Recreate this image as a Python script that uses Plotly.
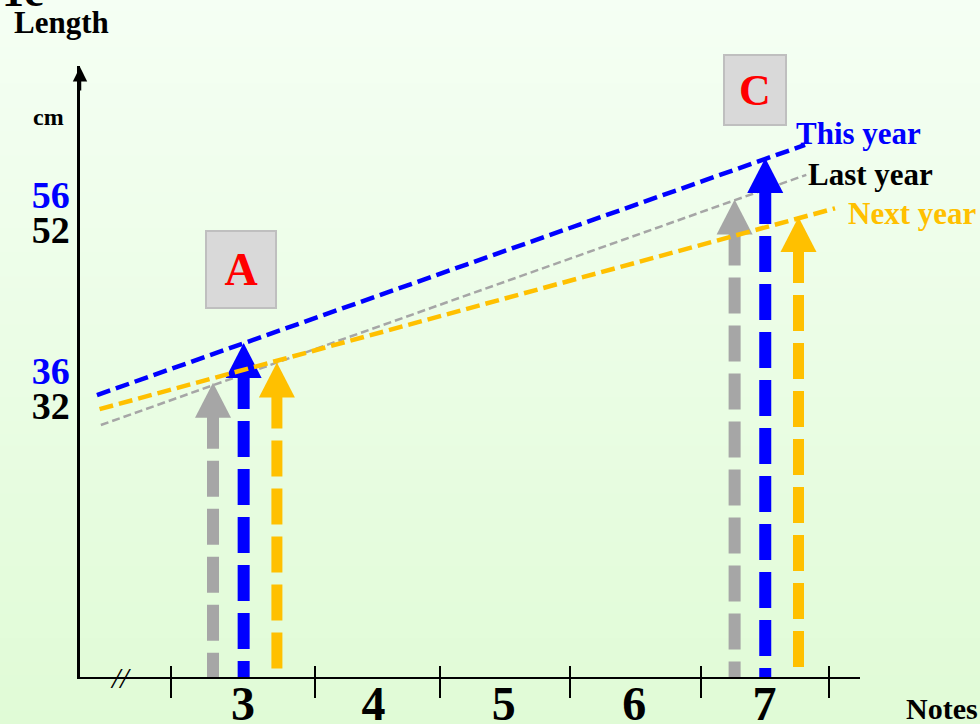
import plotly.graph_objects as go

# ---------------- data ----------------
categories = [3, 4, 5, 6, 7]
category_labels = ["3", "4", "5", "6", "7"]
tick_marks = [2.45, 3.55, 4.51, 5.51, 6.51, 7.49]

y_tick_values = [56, 52, 36, 32]
y_tick_labels = ["56", "52", "36", "32"]
y_tick_colors = ["#0000ff", "#000000", "#0000ff", "#000000"]

series_names = ["This year", "Last year", "Next year"]

this_year_line_x = [1.88, 7.31]
this_year_line_y = [33.2, 61.6]
last_year_line_x = [1.91, 7.32]
last_year_line_y = [29.8, 58.2]
next_year_line_x = [1.90, 7.54]
next_year_line_y = [31.6, 54.4]

arrow_categories = [3, 7]
last_year_arrows = [34.6, 55.4]
this_year_arrows = [39.1, 60.1]
next_year_arrows = [36.9, 53.4]

box_labels = ["A", "C"]

# ---------------- style ----------------
BLUE = "#0000ff"
GREY = "#a6a6a6"
ORANGE = "#ffc000"
SERIF = "Liberation Serif"

W, H = 980, 724
M_L, M_R, M_T, M_B = 80, 120, 66, 47
PLOT_W = W - M_L - M_R
PLOT_H = H - M_T - M_B
X_RANGE = [1.75, 1.75 + PLOT_W / 130.4]
Y_RANGE = [1.2, 1.2 + PLOT_H / 8.81]
DX = (X_RANGE[1] - X_RANGE[0]) / PLOT_W  # data units per pixel
DY = (Y_RANGE[1] - Y_RANGE[0]) / PLOT_H

OFFSETS = {"Last year": -0.23, "This year": 0.005, "Next year": 0.26}

fig = go.Figure()


def add_line(xs, ys, color, width, dash):
    fig.add_trace(go.Scatter(x=xs, y=ys, mode="lines",
                             line=dict(color=color, width=width, dash=dash),
                             hoverinfo="skip", showlegend=False))


def add_arrow(x, tip, color, shaft_w=12):
    hw = 18 * DX
    hl = 35 * DY
    fig.add_trace(go.Scatter(x=[x, x], y=[tip - 30 * DY, Y_RANGE[0]], mode="lines",
                             line=dict(color=color, width=shaft_w, dash="36px,12px"),
                             hoverinfo="skip", showlegend=False))
    fig.add_trace(go.Scatter(x=[x - hw, x + hw, x, x - hw],
                             y=[tip - hl, tip - hl, tip, tip - hl],
                             mode="lines", fill="toself", fillcolor=color,
                             line=dict(color=color, width=0),
                             hoverinfo="skip", showlegend=False))


add_line(last_year_line_x, last_year_line_y, GREY, 2.5, "8px,4px")
add_line(this_year_line_x, this_year_line_y, BLUE, 4.5, "14px,6px")

for i, c in enumerate(arrow_categories):
    add_arrow(c + OFFSETS["Last year"], last_year_arrows[i], GREY)
    add_arrow(c + OFFSETS["This year"], this_year_arrows[i], BLUE)
    add_arrow(c + OFFSETS["Next year"], next_year_arrows[i], ORANGE, 11)

add_line(next_year_line_x, next_year_line_y, ORANGE, 4.5, "14px,6px")

# invisible anchors so the overlaying tick axes get drawn
for ax in ["x2", "x3"]:
    fig.add_trace(go.Scatter(x=[X_RANGE[0]], y=[Y_RANGE[0]], xaxis=ax, mode="markers",
                             marker=dict(opacity=0), hoverinfo="skip", showlegend=False))

# ---------------- background gradient ----------------
top = (245, 255, 244)
bot = (224, 251, 214)
N = 60
shapes = []
y_top_p = (H - M_B) / PLOT_H  # paper y of top pixel
y_bot_p = -M_B / PLOT_H
for k in range(N):
    t = (k + 0.5) / N
    col = tuple(round(top[j] + (bot[j] - top[j]) * t) for j in range(3))
    y1 = y_top_p + (y_bot_p - y_top_p) * k / N
    y0 = y_top_p + (y_bot_p - y_top_p) * (k + 1) / N
    shapes.append(dict(type="rect", xref="paper", yref="paper",
                       x0=-M_L / PLOT_W - 0.01, x1=(W - M_L) / PLOT_W + 0.01,
                       y0=y0 - 0.002, y1=y1 + 0.002, layer="below",
                       line=dict(width=0), fillcolor="rgb(%d,%d,%d)" % col))


def px2paper(px, py):
    return (px - M_L) / PLOT_W, (H - M_B - py) / PLOT_H


annotations = []


def text_ann(txt, px, py, size, color="black", xanchor="left"):
    x, y = px2paper(px, py)
    annotations.append(dict(text="<b>%s</b>" % txt, x=x, y=y, xref="paper", yref="paper",
                            xanchor=xanchor, yanchor="middle", showarrow=False,
                            font=dict(family=SERIF, size=size, color=color)))


text_ann("1c", 0, -8, 44)
text_ann("Length", 12, 22, 31)
text_ann("cm", 31, 117, 24)
text_ann("Notes", 904, 708, 30)
text_ann("This year", 794, 133, 31, BLUE)
text_ann("Last year", 806, 174, 31, "black")
text_ann("Next year", 846, 213, 31, ORANGE)
annotations.append(dict(text="<i>//</i>", x=px2paper(108, 696)[0], y=px2paper(108, 696)[1],
                        xref="paper", yref="paper", showarrow=False,
                        font=dict(family=SERIF, size=30, color="black")))

# boxes A and C
for lbl, (cx, cy, bw, bh, fs) in zip(box_labels, [(241, 269.5, 68, 75, 46), (755, 90, 60, 68, 44)]):
    x, y = px2paper(cx, cy)
    annotations.append(dict(text="<b>%s</b>" % lbl, x=x, y=y, xref="paper", yref="paper",
                            xanchor="center", yanchor="middle", showarrow=False,
                            width=bw, height=bh, bgcolor="#d9d9d9", bordercolor="#bfbfbf",
                            borderwidth=2, borderpad=0,
                            font=dict(family=SERIF, size=fs, color="#ff0000")))

# y-axis arrow head
annotations.append(dict(x=X_RANGE[0], y=Y_RANGE[1] - 1 * DY, xref="x", yref="y", text="",
                        showarrow=True, arrowhead=2, arrowsize=1.15, arrowwidth=2.5,
                        arrowcolor="black", ax=0, ay=25))

fig.update_layout(
    width=W, height=H,
    margin=dict(l=M_L, r=M_R, t=M_T, b=M_B, autoexpand=False),
    paper_bgcolor="rgb(235,253,228)", plot_bgcolor="rgba(0,0,0,0)",
    showlegend=False,
    shapes=shapes,
    annotations=annotations,
    xaxis=dict(range=X_RANGE, showgrid=False, zeroline=False, showline=True,
               linecolor="black", linewidth=2, ticks="",
               tickvals=categories, ticktext=["<b>%s</b>" % s for s in category_labels],
               tickfont=dict(family=SERIF, size=48, color="black"),
               ticklabelstandoff=-17, automargin=False),
    xaxis2=dict(range=X_RANGE, overlaying="x", anchor="y", side="bottom",
                showgrid=False, zeroline=False, showline=False,
                tickvals=tick_marks, ticks="outside", ticklen=20, tickwidth=1.5,
                tickcolor="black", showticklabels=False, automargin=False),
    xaxis3=dict(range=X_RANGE, overlaying="x", anchor="y", side="bottom",
                showgrid=False, zeroline=False, showline=False,
                tickvals=tick_marks, ticks="inside", ticklen=11, tickwidth=1.5,
                tickcolor="black", showticklabels=False, automargin=False),
    yaxis=dict(range=Y_RANGE, showgrid=False, zeroline=False, showline=True,
               linecolor="black", linewidth=2.5, ticks="",
               tickvals=y_tick_values,
               ticktext=['<span style="color:%s"><b>%s</b></span>' % (c, t)
                         for t, c in zip(y_tick_labels, y_tick_colors)],
               tickfont=dict(family=SERIF, size=38),
               automargin=False),
)

fig.write_html("out.html", config={"displayModeBar": False},
               post_script="document.body.style.margin='0';")
